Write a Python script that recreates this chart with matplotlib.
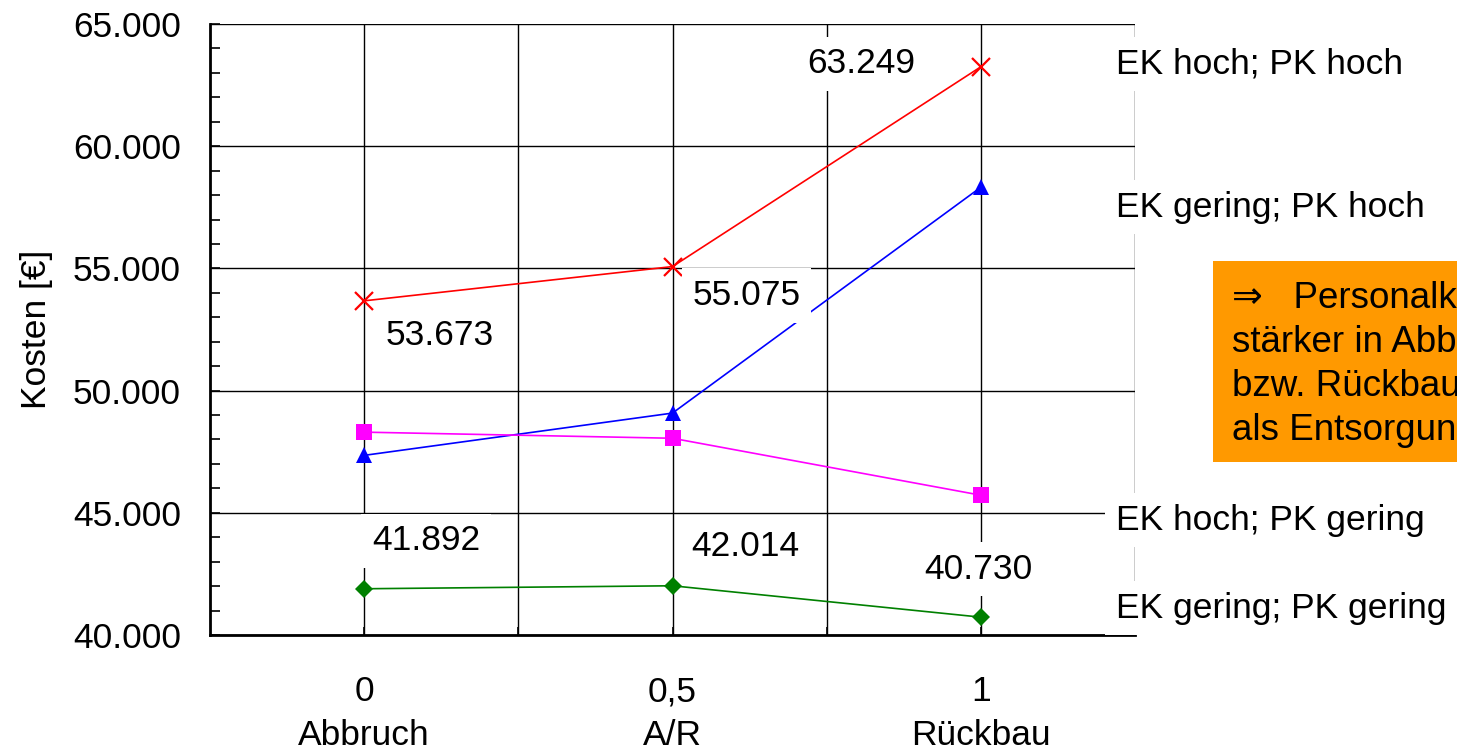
import matplotlib
matplotlib.use("Agg")
import matplotlib.pyplot as plt
from matplotlib.ticker import FixedLocator, FuncFormatter, MultipleLocator
from matplotlib.patches import Rectangle

plt.rcParams['font.family'] = ['Liberation Sans', 'DejaVu Sans']
FS = 25.5
NOTE_FS = 26.5

# Anteil Rückbau (0 = Abbruch, 0,5 = A/R, 1 = Rückbau)
shares = [0, 0.5, 1]
tick_labels = ["0\nAbbruch", "0,5\nA/R", "1\nRückbau"]

series_names = ["EK hoch; PK hoch", "EK gering; PK hoch",
                "EK hoch; PK gering", "EK gering; PK gering"]
ek_hoch_pk_hoch = [53673, 55075, 63249]
ek_gering_pk_hoch = [47350, 49080, 58320]
ek_hoch_pk_gering = [48300, 48050, 45720]
ek_gering_pk_gering = [41892, 42014, 40730]

note_lines = ["\u21d2   Personalkosten wirken sich",
              "stärker in Abbruch-",
              "bzw. Rückbauvariante aus",
              "als Entsorgungskosten"]


def de_fmt(v, pos=None):
    return f"{v:,.0f}".replace(",", ".")


fig = plt.figure(figsize=(14.57, 7.5), dpi=100)
ax = fig.add_axes([210 / 1457, 115 / 750, 925 / 1457, 611 / 750])

styles = [
    dict(color="#FF0000", marker="x", ms=13, mew=1.6),
    dict(color="#0000FF", marker="^", ms=12, mew=0),
    dict(color="#FF00FF", marker="s", ms=11, mew=0),
    dict(color="#008000", marker="D", ms=9.5, mew=0),
]
all_series = [ek_hoch_pk_hoch, ek_gering_pk_hoch, ek_hoch_pk_gering, ek_gering_pk_gering]

for vals, st in zip(all_series, styles):
    ax.plot(shares, vals, lw=1.2, zorder=2, **st)

ax.set_xlim(-0.25, 1.25)
ax.set_ylim(40000, 65000)

ax.xaxis.set_major_locator(FixedLocator(shares))
ax.xaxis.set_minor_locator(FixedLocator([0.25, 0.75, 1.25]))
ax.set_xticklabels(tick_labels, fontsize=FS, linespacing=1.41)
ax.yaxis.set_major_locator(MultipleLocator(5000))
ax.yaxis.set_minor_locator(MultipleLocator(1000))
ax.yaxis.set_major_formatter(FuncFormatter(de_fmt))

ax.tick_params(axis="y", which="both", direction="in", length=7, width=1.2,
               labelsize=FS, pad=21)
ax.tick_params(axis="x", which="both", direction="in", length=6, width=1.2,
               labelsize=FS, pad=29)

ax.set_axisbelow(True)
ax.xaxis.grid(True, which="both", color="black", lw=1)
ax.yaxis.grid(True, which="major", color="black", lw=1)

for side in ("top", "right"):
    ax.spines[side].set_visible(False)
for side in ("left", "bottom"):
    ax.spines[side].set_linewidth(2)

ax.set_ylabel("Kosten [€]", fontsize=FS, labelpad=14)

box = dict(boxstyle="square,pad=0.3", fc="white", ec="none")

# value labels for the red and green series
value_offsets = {
    0: [(76, -35), (74, -29), (-120, 3)],
    3: [(62, 48), (73, 39), (-2, 48)],
}
for idx, offs in value_offsets.items():
    for x, v, off in zip(shares, all_series[idx], offs):
        ax.annotate(de_fmt(v), xy=(x, v), xytext=off, textcoords="offset pixels",
                    ha="center", va="center", fontsize=FS, bbox=box, zorder=4)

# series names to the right of the last point
name_offsets = [3, -20, -25, 9]
for name, vals, dy in zip(series_names, all_series, name_offsets):
    ax.annotate(name, xy=(shares[-1], vals[-1]), xytext=(135, dy),
                textcoords="offset pixels", ha="left", va="center",
                fontsize=FS, bbox=box, zorder=4, annotation_clip=False)

# orange note box
fig.add_artist(Rectangle((1213 / 1457, 288 / 750), 0.3, 201 / 750,
                         transform=fig.transFigure, fc="#FF9900", ec="none",
                         zorder=5))
fig.text(1232 / 1457, 310 / 750, "\n".join(note_lines), ha="left", va="baseline",
         fontsize=NOTE_FS, linespacing=1.33, zorder=6)

fig.savefig("out.png", dpi=100)
